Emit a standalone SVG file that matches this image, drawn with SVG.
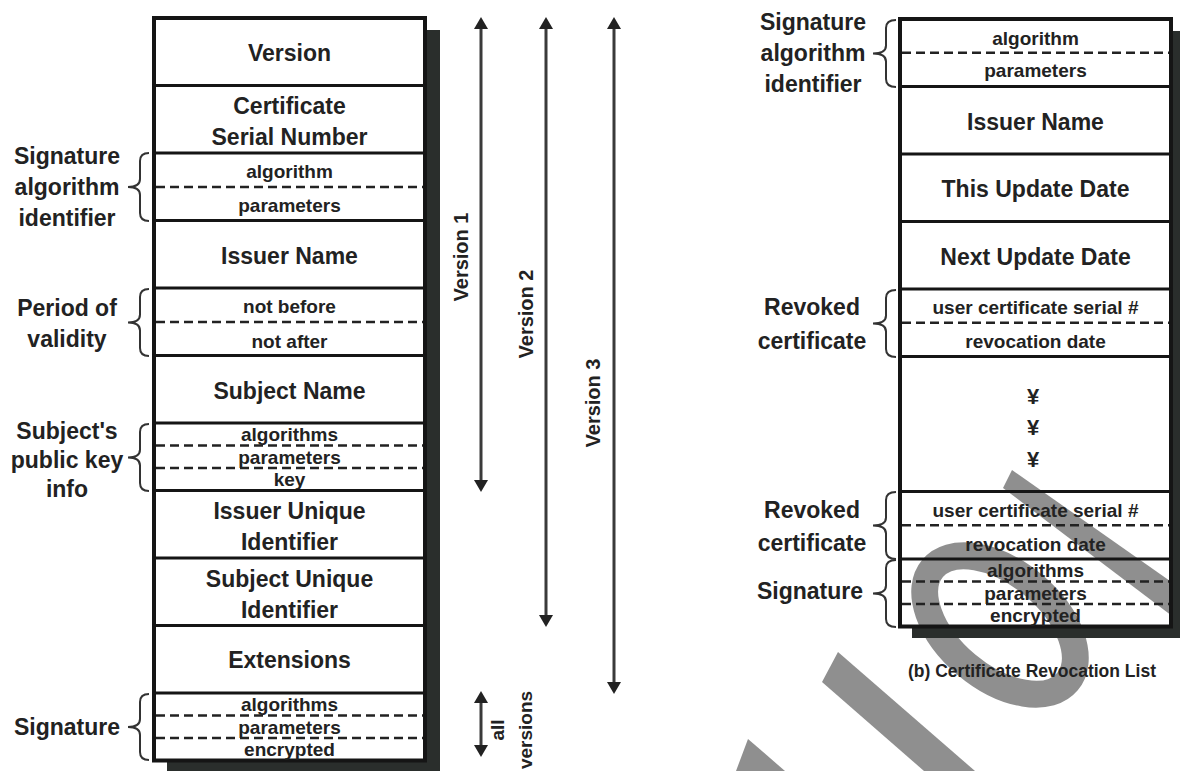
<svg xmlns="http://www.w3.org/2000/svg" width="1180" height="771" viewBox="0 0 1180 771">
<style>
text{font-family:"Liberation Sans",Arial,sans-serif;font-weight:bold;fill:#222;text-anchor:middle}
.big{font-size:23px}
.sm{font-size:19px}
.rot{font-size:20px}
.cap{font-size:17.5px}
.frame{fill:none;stroke:#151515;stroke-width:4}
.sep{stroke:#151515;stroke-width:3}
.dash{stroke:#222;stroke-width:2.5;stroke-dasharray:9 5}
.brace{fill:none;stroke:#333;stroke-width:2}
.shadow{fill:#2a2e2c}
.arr{fill:none;stroke:#3a3a3a;stroke-width:3;marker-start:url(#ah);marker-end:url(#ah)}
.wm{fill:#8f8f8f}
</style>
<defs>
<marker id="ah" viewBox="0 0 12 14" refX="6" refY="7" markerWidth="12" markerHeight="14" markerUnits="userSpaceOnUse" orient="auto-start-reverse">
<path d="M0,0 L12,7 L0,14 Z" fill="#222"/>
</marker>
</defs>
<rect width="1180" height="771" fill="#fff"/>

<g id="watermark">
<ellipse cx="0" cy="0" rx="88" ry="52" transform="translate(1000,625) rotate(40)" fill="none" stroke="#8f8f8f" stroke-width="27"/>
<path class="wm" d="M1012,470 L1180,588 L1180,622 L1003,488 Z"/>
<path class="wm" d="M838,652 L975,771 L924,771 L822,682 Z"/>
<path class="wm" d="M748,739 L785,771 L736,771 Z"/>
</g>

<g id="shadows">
<path class="shadow" d="M427,30 H440 V773 H167 V762 H427 Z"/>
<path class="shadow" d="M1173,31 H1186 V638 H912 V628 H1173 Z"/>
</g>

<g id="certificate">
<rect class="frame" x="154" y="18" width="271" height="742.5"/>
<g id="c-version"><text class="big" x="289.5" y="60.5">Version</text></g>
<line class="sep" x1="154" y1="85.5" x2="425" y2="85.5"/>
<g id="c-serial"><text class="big" x="289.5" y="114">Certificate</text><text class="big" x="289.5" y="145">Serial Number</text></g>
<line class="sep" x1="154" y1="153" x2="425" y2="153"/>
<g id="c-sigalg"><text class="sm" x="289.5" y="178">algorithm</text><line class="dash" x1="156" y1="187" x2="423" y2="187"/><text class="sm" x="289.5" y="212">parameters</text></g>
<line class="sep" x1="154" y1="220.5" x2="425" y2="220.5"/>
<g id="c-issuer"><text class="big" x="289.5" y="263.5">Issuer Name</text></g>
<line class="sep" x1="154" y1="288" x2="425" y2="288"/>
<g id="c-validity"><text class="sm" x="289.5" y="313">not before</text><line class="dash" x1="156" y1="322" x2="423" y2="322"/><text class="sm" x="289.5" y="348">not after</text></g>
<line class="sep" x1="154" y1="355.5" x2="425" y2="355.5"/>
<g id="c-subject"><text class="big" x="289.5" y="399">Subject Name</text></g>
<line class="sep" x1="154" y1="423" x2="425" y2="423"/>
<g id="c-pubkey"><text class="sm" x="289.5" y="441">algorithms</text><line class="dash" x1="156" y1="445.5" x2="423" y2="445.5"/><text class="sm" x="289.5" y="463.5">parameters</text><line class="dash" x1="156" y1="468" x2="423" y2="468"/><text class="sm" x="289.5" y="485.5">key</text></g>
<line class="sep" x1="154" y1="490.5" x2="425" y2="490.5"/>
<g id="c-issuerid"><text class="big" x="289.5" y="519">Issuer Unique</text><text class="big" x="289.5" y="550">Identifier</text></g>
<line class="sep" x1="154" y1="558" x2="425" y2="558"/>
<g id="c-subjectid"><text class="big" x="289.5" y="586.5">Subject Unique</text><text class="big" x="289.5" y="617.5">Identifier</text></g>
<line class="sep" x1="154" y1="625.5" x2="425" y2="625.5"/>
<g id="c-ext"><text class="big" x="289.5" y="667.5">Extensions</text></g>
<line class="sep" x1="154" y1="693" x2="425" y2="693"/>
<g id="c-sig"><text class="sm" x="289.5" y="711">algorithms</text><line class="dash" x1="156" y1="715.5" x2="423" y2="715.5"/><text class="sm" x="289.5" y="733.5">parameters</text><line class="dash" x1="156" y1="738" x2="423" y2="738"/><text class="sm" x="289.5" y="755.5">encrypted</text></g>
</g>

<g id="cert-labels">
<g id="l-sigalg"><path class="brace" d="M149,153 Q140,153 140,161 L140,179 Q140,187 128,187 Q140,187 140,195 L140,213 Q140,221 149,221"/>
<text class="big" x="67" y="164">Signature</text><text class="big" x="67" y="195">algorithm</text><text class="big" x="67" y="226">identifier</text></g>
<g id="l-validity"><path class="brace" d="M149,289 Q140,289 140,297 L140,314.5 Q140,322.5 128,322.5 Q140,322.5 140,330.5 L140,348 Q140,356 149,356"/>
<text class="big" x="67" y="316">Period of</text><text class="big" x="67" y="347">validity</text></g>
<g id="l-pubkey"><path class="brace" d="M149,424 Q140,424 140,432 L140,449.5 Q140,457.5 128,457.5 Q140,457.5 140,465.5 L140,483 Q140,491 149,491"/>
<text class="big" x="67" y="439">Subject's</text><text class="big" x="67" y="468">public key</text><text class="big" x="67" y="497">info</text></g>
<g id="l-sig"><path class="brace" d="M149,694 Q140,694 140,702 L140,719 Q140,727 128,727 Q140,727 140,735 L140,752 Q140,760 149,760"/>
<text class="big" x="67" y="735">Signature</text></g>
</g>

<g id="connectors">
<line class="arr" x1="481" y1="23" x2="481" y2="486"/>
<line class="arr" x1="546" y1="23" x2="546" y2="621"/>
<line class="arr" x1="614" y1="23" x2="614" y2="688"/>
<line class="arr" x1="481" y1="697" x2="481" y2="751"/>
</g>

<g id="version-labels">
<text class="rot" transform="translate(461,257) rotate(-90)" dy="0.35em">Version 1</text>
<text class="rot" transform="translate(526,314) rotate(-90)" dy="0.35em">Version 2</text>
<text class="rot" transform="translate(593,403) rotate(-90)" dy="0.35em">Version 3</text>
<text class="sm" transform="translate(497,730) rotate(-90)" dy="0.35em">all</text>
<text class="sm" transform="translate(525,730) rotate(-90)" dy="0.35em">versions</text>
</g>

<g id="crl">
<rect class="frame" x="900" y="19" width="271" height="607.5"/>
<g id="r-sigalg"><text class="sm" x="1035.5" y="45">algorithm</text><line class="dash" x1="902" y1="52.75" x2="1169" y2="52.75"/><text class="sm" x="1035.5" y="77">parameters</text></g>
<line class="sep" x1="900" y1="86.5" x2="1171" y2="86.5"/>
<g id="r-issuer"><text class="big" x="1035.5" y="129.5">Issuer Name</text></g>
<line class="sep" x1="900" y1="154" x2="1171" y2="154"/>
<g id="r-this"><text class="big" x="1035.5" y="197">This Update Date</text></g>
<line class="sep" x1="900" y1="221.5" x2="1171" y2="221.5"/>
<g id="r-next"><text class="big" x="1035.5" y="265">Next Update Date</text></g>
<line class="sep" x1="900" y1="289" x2="1171" y2="289"/>
<g id="r-revoked1"><text class="sm" x="1035.5" y="314">user certificate serial #</text><line class="dash" x1="902" y1="322.75" x2="1169" y2="322.75"/><text class="sm" x="1035.5" y="348">revocation date</text></g>
<line class="sep" x1="900" y1="356.5" x2="1171" y2="356.5"/>
<g id="r-ellipsis"><text x="1033" y="404" style="font-size:22px">¥</text><text x="1033" y="435" style="font-size:22px">¥</text><text x="1033" y="467" style="font-size:22px">¥</text></g>
<line class="sep" x1="900" y1="491.5" x2="1171" y2="491.5"/>
<g id="r-revoked2"><text class="sm" x="1035.5" y="516.5">user certificate serial #</text><line class="dash" x1="902" y1="525.25" x2="1169" y2="525.25"/><text class="sm" x="1035.5" y="550.5">revocation date</text></g>
<line class="sep" x1="900" y1="559" x2="1171" y2="559"/>
<g id="r-sig"><text class="sm" x="1035.5" y="577">algorithms</text><line class="dash" x1="902" y1="581.5" x2="1169" y2="581.5"/><text class="sm" x="1035.5" y="599.5">parameters</text><line class="dash" x1="902" y1="604" x2="1169" y2="604"/><text class="sm" x="1035.5" y="621.5">encrypted</text></g>
</g>

<g id="crl-labels">
<g id="rl-sigalg"><path class="brace" d="M896,20 Q886,20 886,28 L886,45.5 Q886,53.5 873,53.5 Q886,53.5 886,61.5 L886,79 Q886,87 896,87"/>
<text class="big" x="813" y="30">Signature</text><text class="big" x="813" y="61">algorithm</text><text class="big" x="813" y="92">identifier</text></g>
<g id="rl-revoked1"><path class="brace" d="M896,290 Q886,290 886,298 L886,315.5 Q886,323.5 873,323.5 Q886,323.5 886,331.5 L886,349 Q886,357 896,357"/>
<text class="big" x="812" y="315">Revoked</text><text class="big" x="812" y="349">certificate</text></g>
<g id="rl-revoked2"><path class="brace" d="M896,492 Q886,492 886,500 L886,517.5 Q886,525.5 873,525.5 Q886,525.5 886,533.5 L886,551 Q886,559 896,559"/>
<text class="big" x="812" y="518">Revoked</text><text class="big" x="812" y="551">certificate</text></g>
<g id="rl-sig"><path class="brace" d="M896,560 Q886,560 886,568 L886,585.5 Q886,593.5 873,593.5 Q886,593.5 886,601.5 L886,619 Q886,627 896,627"/>
<text class="big" x="810" y="599">Signature</text></g>
<text class="cap" x="1032" y="677">(b) Certificate Revocation List</text>
</g>
</svg>
